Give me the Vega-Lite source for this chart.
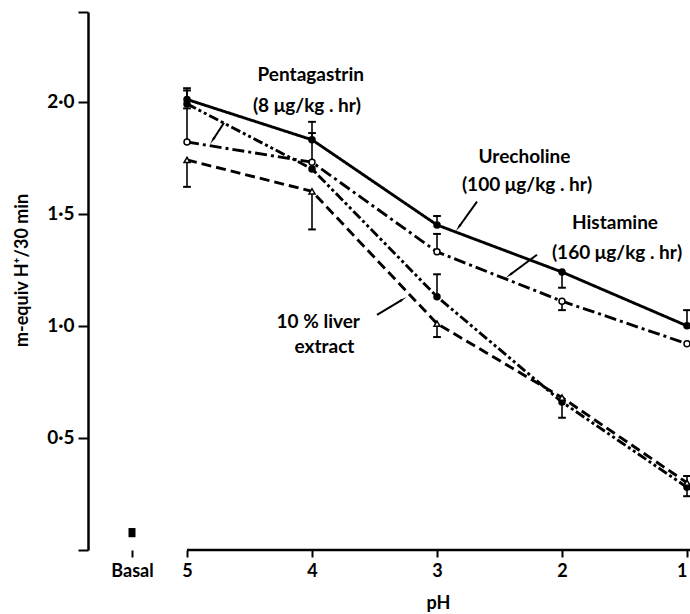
{
  "$schema": "https://vega.github.io/schema/vega-lite/v6.json",
  "width": 602,
  "height": 538,
  "autosize": "none",
  "padding": {"left": 88, "top": 12, "right": 0, "bottom": 64},
  "background": "white",
  "config": {"font": "Lato", "view": {"stroke": null}},
  "datasets": {
    "pts": [
      {"series": "Urecholine", "pH": 5, "value": 2.01, "err": 2.06},
      {"series": "Urecholine", "pH": 4, "value": 1.83, "err": 1.86},
      {"series": "Urecholine", "pH": 3, "value": 1.45, "err": 1.49},
      {"series": "Urecholine", "pH": 2, "value": 1.24, "err": 1.17},
      {"series": "Urecholine", "pH": 1, "value": 1.00, "err": 1.07},
      {"series": "Histamine", "pH": 5, "value": 1.82, "err": 1.97},
      {"series": "Histamine", "pH": 4, "value": 1.73, "err": 1.91},
      {"series": "Histamine", "pH": 3, "value": 1.33, "err": 1.41},
      {"series": "Histamine", "pH": 2, "value": 1.11, "err": 1.07},
      {"series": "Histamine", "pH": 1, "value": 0.92, "err": null},
      {"series": "Pentagastrin", "pH": 5, "value": 1.99, "err": 2.05},
      {"series": "Pentagastrin", "pH": 4, "value": 1.70, "err": null},
      {"series": "Pentagastrin", "pH": 3, "value": 1.13, "err": 1.23},
      {"series": "Pentagastrin", "pH": 2, "value": 0.66, "err": 0.59},
      {"series": "Pentagastrin", "pH": 1, "value": 0.28, "err": 0.24},
      {"series": "10 % liver extract", "pH": 5, "value": 1.74, "err": 1.62},
      {"series": "10 % liver extract", "pH": 4, "value": 1.60, "err": 1.43},
      {"series": "10 % liver extract", "pH": 3, "value": 1.01, "err": 0.95},
      {"series": "10 % liver extract", "pH": 2, "value": 0.68, "err": null},
      {"series": "10 % liver extract", "pH": 1, "value": 0.30, "err": 0.33}
    ],
    "basal": [{"pH": 5.44, "value": 0.057, "err": 0.098}],
    "labels": [
      {"text": "Pentagastrin", "pH": 4.01, "value": 2.12},
      {"text": "(8 μg/kg . hr)", "pH": 4.04, "value": 1.98},
      {"text": "Urecholine", "pH": 2.30, "value": 1.755},
      {"text": "(100 μg/kg . hr)", "pH": 2.28, "value": 1.63},
      {"text": "Histamine", "pH": 1.576, "value": 1.46},
      {"text": "(160 μg/kg . hr)", "pH": 1.56, "value": 1.326},
      {"text": "10 % liver", "pH": 3.95, "value": 1.018},
      {"text": "extract", "pH": 3.90, "value": 0.906}
    ],
    "arrows": [
      {"pH": 4.704, "value": 1.906, "pH2": 4.792, "value2": 1.83, "angle": -147},
      {"pH": 2.68, "value": 1.554, "pH2": 2.824, "value2": 1.442, "angle": -144},
      {"pH": 2.2, "value": 1.317, "pH2": 2.416, "value2": 1.228, "angle": -127},
      {"pH": 3.48, "value": 1.049, "pH2": 3.28, "value2": 1.116, "angle": 59}
    ]
  },
  "encoding": {
    "x": {
      "field": "pH",
      "type": "quantitative",
      "scale": {"domain": [0.976, 5.792], "reverse": true, "nice": false, "zero": false},
      "axis": {
        "values": [5.44, 5, 4, 3, 2, 1],
        "labelExpr": "datum.value > 5.2 ? 'Basal' : format(datum.value, 'd')",
        "domain": false,
        "grid": false,
        "tickSize": 7,
        "tickWidth": 2,
        "tickColor": "black",
        "labelPadding": 5,
        "labelFlush": 5,
        "labelOverlap": false,
        "labelFontSize": 18,
        "labelFontWeight": "bold",
        "labelColor": "black",
        "title": "pH",
        "titleFontSize": 18,
        "titleFontWeight": "bold",
        "titleColor": "black",
        "titleX": 350,
        "titleY": 53,
        "titleBaseline": "middle",
        "titleAlign": "center"
      }
    },
    "y": {
      "field": "value",
      "type": "quantitative",
      "scale": {"domain": [0, 2.4], "nice": false, "zero": true},
      "axis": {
        "values": [0, 0.5, 1, 1.5, 2, 2.4],
        "labelExpr": "datum.value < 0.1 || datum.value > 2.2 ? '' : replace(format(datum.value, '.1f'), '.', '·')",
        "grid": false,
        "domainColor": "black",
        "domainWidth": 2.5,
        "tickColor": "black",
        "tickWidth": 2,
        "tickSize": 10,
        "labelPadding": 4,
        "labelFontSize": 19,
        "labelFontWeight": "bold",
        "labelColor": "black",
        "title": "m-equiv H⁺/30 min",
        "titleFontSize": 18,
        "titleFontWeight": "bold",
        "titleColor": "black",
        "titleX": -66,
        "titleY": 258,
        "titleAngle": -90,
        "titleAlign": "center",
        "titleBaseline": "middle"
      }
    }
  },
  "layer": [
    {
      "data": {"name": "basal"},
      "mark": {"type": "rule", "stroke": "black", "strokeWidth": 2.5},
      "encoding": {
        "x": {"datum": 5},
        "x2": {"datum": 0.976},
        "y": {"datum": 0}
      }
    },
    {
      "data": {"name": "pts"},
      "mark": {"type": "line", "stroke": "black", "strokeWidth": 2.9},
      "encoding": {
        "detail": {"field": "series", "type": "nominal"},
        "strokeDash": {
          "field": "series",
          "type": "nominal",
          "scale": {
            "domain": ["Urecholine", "Histamine", "Pentagastrin", "10 % liver extract"],
            "range": [[1, 0], [12, 4, 3, 4], [10, 3, 3, 3, 3, 3], [10, 5]]
          },
          "legend": null
        }
      }
    },
    {
      "data": {"name": "pts"},
      "transform": [{"filter": "isValid(datum.err)"}],
      "mark": {"type": "rule", "stroke": "black", "strokeWidth": 1.6},
      "encoding": {"y2": {"field": "err"}}
    },
    {
      "data": {"name": "pts"},
      "transform": [{"filter": "isValid(datum.err)"}],
      "mark": {"type": "point", "shape": "stroke", "size": 60, "stroke": "black", "strokeWidth": 2, "opacity": 1},
      "encoding": {"y": {"field": "err", "type": "quantitative"}}
    },
    {
      "data": {"name": "pts"},
      "mark": {"type": "point", "filled": true, "stroke": "black", "strokeWidth": 1.5, "size": 36, "opacity": 1},
      "encoding": {
        "shape": {
          "field": "series",
          "type": "nominal",
          "scale": {
            "domain": ["Urecholine", "Histamine", "Pentagastrin", "10 % liver extract"],
            "range": ["circle", "circle", "circle", "triangle-up"]
          },
          "legend": null
        },
        "fill": {
          "field": "series",
          "type": "nominal",
          "scale": {
            "domain": ["Urecholine", "Histamine", "Pentagastrin", "10 % liver extract"],
            "range": ["black", "white", "black", "white"]
          },
          "legend": null
        }
      }
    },
    {
      "data": {"name": "basal"},
      "mark": {"type": "rule", "stroke": "black", "strokeWidth": 7},
      "encoding": {"y2": {"field": "err"}}
    },
    {
      "data": {"name": "labels"},
      "mark": {"type": "text", "fontSize": 19, "fontWeight": "bold", "align": "center", "baseline": "middle", "color": "black"},
      "encoding": {"text": {"field": "text", "type": "nominal"}}
    },
    {
      "data": {"name": "arrows"},
      "mark": {"type": "rule", "stroke": "black", "strokeWidth": 2},
      "encoding": {"x2": {"field": "pH2"}, "y2": {"field": "value2"}}
    },
    {
      "data": {"name": "arrows"},
      "mark": {"type": "point", "shape": "wedge", "filled": true, "color": "black", "size": 90, "opacity": 1},
      "encoding": {
        "x": {"field": "pH2", "type": "quantitative"},
        "y": {"field": "value2", "type": "quantitative"},
        "angle": {"field": "angle", "type": "quantitative", "scale": null}
      }
    }
  ]
}
